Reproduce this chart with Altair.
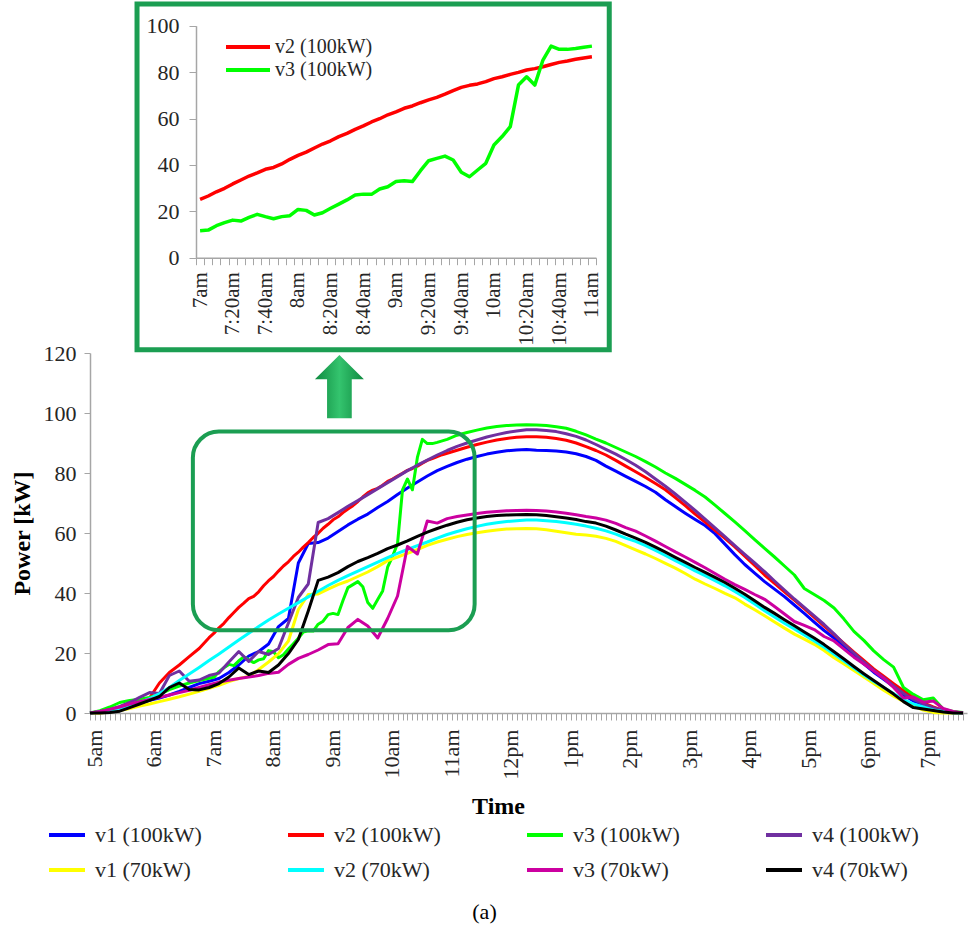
import altair as alt
import pandas as pd

FONT = "Liberation Serif"
TEXT = "#262626"
AXIS_GREY = "#A6A6A6"
FRAME_GREEN = "#1B9E52"

# ---------------- categories (minutes after midnight) ----------------
TIMES = list(range(300, 1181, 10))        # 5:00am ... 7:40pm, 10-minute steps
AM_TIMES = list(range(300, 420, 10))      # 5:00am ... 6:50am
INSET_TIMES = list(range(420, 661, 5))    # 7:00am ... 11:00am, 5-minute steps
PM_TIMES = list(range(670, 1181, 10))     # 11:10am ... 7:40pm

SERIES = ["v1 (100kW)", "v2 (100kW)", "v3 (100kW)", "v4 (100kW)",
          "v1 (70kW)", "v2 (70kW)", "v3 (70kW)", "v4 (70kW)"]
COLORS = ["#0000FF", "#FF0000", "#00FF00", "#7030A0",
          "#FFFF00", "#00FFFF", "#CC00A0", "#000000"]

# ---------------- series values (kW) ----------------
v1_100 = [0, 0.3, 0.8, 1.5, 2.3, 3.2,
          4.2, 5.0, 6.0, 7.2, 8.5, 9.8,
          10.6, 11.5, 13.5, 16.0, 19.0, 20.5,
          23.0, 28.8, 31.5, 50.0, 56.5, 56.8,
          58.3, 60.5, 62.7, 64.6, 66.3, 68.5,
          70.5, 72.8, 75.0, 77.0, 79.0, 80.8,
          82.2, 83.5, 84.6, 85.5, 86.3, 86.9,
          87.4, 87.7, 87.8, 87.6, 87.5, 87.3,
          87.0, 86.4, 85.5, 84.2, 82.3, 80.6,
          78.9, 77.2, 75.5, 73.6, 71.1, 68.8,
          66.6, 64.5, 62.5, 59.8, 56.3, 52.8,
          49.5, 46.6, 43.8, 41.3, 38.8, 36.0,
          33.2, 30.3, 27.5, 25.0, 22.2, 19.3,
          16.4, 13.6, 11.2, 8.8, 6.0, 4.0,
          2.8, 1.5, 0.6, 0.2, 0]

v2_100_am = [0, 0.4, 1.0, 1.8, 2.8, 3.8, 5.0, 10.0, 13.5, 16.0, 18.8, 21.5]
v2_100_inset = [25.1, 26.6, 28.4, 29.9, 31.8, 33.5, 35.2, 36.6, 38.1, 38.9,
                40.4, 42.4, 44.1, 45.5, 47.3, 49.0, 50.4, 52.2, 53.6, 55.3,
                56.8, 58.5, 59.9, 61.6, 62.9, 64.4, 65.4, 66.8, 68.0, 69.1,
                70.5, 72.0, 73.4, 74.3, 74.9, 75.9, 77.2, 78.0, 79.0, 79.9,
                80.9, 81.5, 82.3, 83.3, 84.2, 84.8, 85.5, 86.1, 86.6]
v2_100_pm = [87.6, 88.6, 89.5, 90.3, 91.0,
             91.5, 91.9, 92.1, 92.1, 91.9, 91.5,
             90.9, 90.0, 88.8, 87.5, 86.0, 84.2,
             82.3, 80.4, 78.5, 76.5, 74.4, 71.8,
             69.1, 66.3, 63.6, 60.9, 58.2, 55.4,
             52.3, 49.2, 46.0, 43.2, 40.4, 37.6,
             34.8, 31.9, 29.0, 26.1, 23.2, 20.3,
             17.5, 14.7, 12.3, 9.8, 7.4, 5.2,
             3.4, 2.0, 0.9, 0.3, 0]

v3_100_am = [0, 0.8, 2.0, 3.5, 4.2, 4.6, 5.2, 6.2, 7.8, 9.0, 10.0, 10.8]
v3_100_inset = [11.6, 11.9, 13.8, 15.1, 16.2, 15.8, 17.4, 18.7, 17.7, 16.8,
                17.7, 18.1, 20.8, 20.4, 18.4, 19.4, 21.3, 23.1, 24.9, 27.0,
                27.4, 27.3, 29.6, 30.6, 32.8, 33.2, 32.8, 37.5, 41.8, 42.8,
                43.8, 42.1, 36.8, 34.9, 37.8, 40.7, 48.6, 52.2, 56.5, 74.4,
                78.0, 74.4, 85.2, 91.2, 89.8, 89.8, 90.2, 90.7, 91.2]
v3_100_pm = [92.6, 93.5, 94.3, 95.0, 95.5,
             95.8, 96.0, 96.1, 96.0, 95.8, 95.4,
             94.9, 93.9, 92.7, 91.3, 90.0, 88.5,
             87.0, 85.5, 83.8, 82.0, 80.0, 78.2,
             76.2, 74.2, 72.0, 69.3, 66.5, 63.7,
             60.8, 57.8, 54.9, 52.0, 49.0, 46.0,
             41.5, 39.5, 37.5, 35.0, 31.3, 27.2,
             24.2, 20.7, 17.8, 15.3, 8.5, 6.2,
             4.4, 5.0, 1.3, 0.5, 0.2]

v4_100 = [0, 0.5, 1.2, 2.2, 3.5, 5.2,
          6.8, 6.5, 12.5, 14.0, 10.6, 11.0,
          12.5, 13.3, 17.0, 20.5, 17.2, 20.5,
          19.5, 21.5, 30.0, 38.5, 43.0, 63.5,
          64.8, 66.8, 68.9, 70.8, 72.8, 74.8,
          76.8, 78.8, 80.8, 82.6, 84.3, 86.0,
          87.5, 88.9, 90.0, 91.0, 92.0, 92.8,
          93.5, 94.0, 94.4, 94.4, 94.2, 93.8,
          93.1, 92.2, 91.0, 89.5, 87.9, 86.3,
          84.5, 82.6, 80.4, 78.0, 75.6, 73.0,
          70.3, 67.5, 64.6, 61.7, 58.8, 55.8,
          52.9, 50.0, 47.1, 44.0, 41.0, 38.0,
          35.2, 32.4, 29.5, 26.4, 23.0, 20.0,
          17.0, 14.2, 11.8, 9.0, 6.5, 4.5,
          3.0, 1.8, 0.8, 0.3, 0]

v1_70 = [0, 0, 0.3, 0.8, 1.5, 2.3,
         3.0, 3.8, 4.6, 5.4, 6.3, 7.2,
         8.2, 9.2, 10.5, 11.5, 12.2, 14.5,
         17.0, 19.8, 24.0, 34.5, 39.5, 39.7,
         41.3, 42.8, 44.0, 45.5, 47.0, 48.8,
         50.8, 52.0, 53.2, 54.5, 55.9, 57.0,
         57.9, 58.8, 59.5, 60.1, 60.6, 61.0,
         61.3, 61.4, 61.5, 61.4, 61.1, 60.6,
         60.1, 59.6, 59.3, 58.9, 58.2, 57.2,
         55.8, 54.4, 53.0, 51.5, 49.9, 48.3,
         46.5, 44.6, 43.0, 41.5, 39.9, 38.4,
         36.3, 34.4, 32.4, 30.3, 28.3, 26.3,
         24.6, 22.9, 20.8, 18.4, 16.3, 14.2,
         12.0, 9.8, 7.6, 5.6, 3.9, 2.3,
         1.0, 0.2, 0, 0, 0]

v2_70 = [0, 0.3, 0.8, 1.5, 2.5, 3.5,
         4.8, 6.5, 8.5, 10.8, 13.0, 15.2,
         17.5, 19.7, 22.0, 24.3, 26.6, 28.8,
         31.0, 33.0, 34.9, 36.8, 38.7, 40.6,
         42.5, 44.2, 45.8, 47.3, 48.8, 50.3,
         51.8, 53.2, 54.5, 55.8, 57.0, 58.3,
         59.5, 60.5, 61.4, 62.2, 62.9, 63.4,
         63.8, 64.1, 64.3, 64.3, 64.1, 63.8,
         63.4, 62.9, 62.3, 61.6, 60.7, 59.6,
         58.3, 57.2, 55.8, 54.2, 52.5, 50.8,
         49.1, 47.4, 45.8, 44.1, 42.4, 40.5,
         38.5, 36.3, 34.1, 32.0, 29.9, 28.0,
         26.0, 24.0, 21.9, 19.6, 17.3, 15.0,
         12.7, 10.5, 8.5, 6.5, 4.5, 3.0,
         2.0, 1.0, 0.5, 0.1, 0]

v3_70 = [0, 0.5, 1.2, 2.0, 3.0, 3.8,
         4.5, 5.2, 6.0, 6.8, 7.6, 8.5,
         9.4, 10.3, 10.9, 11.5, 12.0, 12.5,
         13.2, 13.6, 16.2, 18.2, 19.5, 21.0,
         22.8, 23.1, 28.5, 31.2, 29.0, 25.0,
         31.5, 39.0, 55.5, 53.0, 64.0, 63.3,
         64.8, 65.5, 66.0, 66.5, 66.9, 67.2,
         67.4, 67.5, 67.6, 67.5, 67.3, 67.0,
         66.6, 66.1, 65.5, 65.0, 64.3, 63.2,
         61.8, 60.6, 59.0, 57.3, 55.5, 53.7,
         52.0, 50.2, 48.4, 46.5, 44.6, 42.8,
         41.2, 39.5, 37.9, 35.5, 33.0, 30.5,
         29.2, 27.8, 25.5, 24.0, 21.3, 18.6,
         16.3, 14.0, 11.5, 8.5, 5.0, 5.3,
         3.6, 4.0, 1.5, 0.5, 0]

v4_70 = [0, 0, 0.2, 0.6, 1.8, 3.0,
         4.2, 5.5, 8.5, 10.0, 7.8, 7.7,
         8.5, 9.8, 12.0, 15.0, 12.8, 14.0,
         13.5, 16.0, 19.8, 24.5, 34.0, 44.2,
         45.3, 46.8, 48.8, 50.5, 51.8, 53.2,
         54.8, 56.0, 57.4, 58.9, 60.3, 61.5,
         62.6, 63.6, 64.4, 65.0, 65.5, 65.8,
         66.0, 66.1, 66.2, 66.1, 65.8, 65.4,
         65.0, 64.5, 63.8, 63.3, 62.3, 61.0,
         59.6, 58.3, 56.9, 55.3, 53.6, 51.9,
         50.2, 48.5, 46.9, 45.2, 43.5, 41.6,
         39.6, 37.4, 35.2, 33.2, 31.1, 29.1,
         27.0, 25.0, 22.8, 20.4, 18.0, 15.5,
         13.1, 10.8, 8.6, 6.3, 3.8, 1.8,
         1.3, 0.8, 0.3, 0, 0]

# ---------------- annotation anchors (data units: minutes, kW) ----------------
ZOOM_BOX = {"t": 403.7, "t2": 687.7, "kw": 27.6, "kw2": 93.8}      # rounded box 6:44am-11:28am
INSET_FRAME = {"t": 347.4, "t2": 823.4, "kw": 121.1, "kw2": 236.3}  # frame around the inset
ARROW_AT = {"t": 551.4, "kw": 108.8}
ARROW_PATH = "M0,-1 L0.774,-0.232 L0.39,-0.232 L0.39,1 L-0.39,1 L-0.39,-0.232 L-0.774,-0.232 Z"


def series_rows(name, ts, vs):
    assert len(ts) == len(vs), (name, len(ts), len(vs))
    return [{"series": name, "t": t, "kw": v} for t, v in zip(ts, vs)]


FULL_23 = AM_TIMES + INSET_TIMES + PM_TIMES
main_rows = (series_rows(SERIES[0], TIMES, v1_100)
             + series_rows(SERIES[1], FULL_23, v2_100_am + v2_100_inset + v2_100_pm)
             + series_rows(SERIES[2], FULL_23, v3_100_am + v3_100_inset + v3_100_pm)
             + series_rows(SERIES[3], TIMES, v4_100)
             + series_rows(SERIES[4], TIMES, v1_70)
             + series_rows(SERIES[5], TIMES, v2_70)
             + series_rows(SERIES[6], TIMES, v3_70)
             + series_rows(SERIES[7], TIMES, v4_70))
main_df = pd.DataFrame(main_rows)
inset_v2_df = pd.DataFrame(series_rows(SERIES[1], INSET_TIMES, v2_100_inset))
inset_v3_df = pd.DataFrame(series_rows(SERIES[2], INSET_TIMES, v3_100_inset))

# ---------------- geometry ----------------
W, H = 877, 711
x_main = alt.Scale(domain=[300, 1184], range=[0, W], nice=False, zero=False)
y_main = alt.Scale(domain=[0, 120], range=[H, 351], nice=False, zero=False)
x_inset = alt.Scale(domain=[417.5, 662.5], range=[106, 506], nice=False, zero=False)
y_inset = alt.Scale(domain=[0, 100], range=[255.7, 23.7], nice=False, zero=False)

HOUR_LABEL = ("datum.value % 60 == 0 ? (datum.value < 720 ? (datum.value / 60) + 'am' : "
              "(datum.value == 720 ? '12pm' : (datum.value / 60 - 12) + 'pm')) : ''")
INSET_LABEL = ("(datum.value + 2.5) % 20 == 0 ? floor((datum.value + 2.5) / 60) + "
               "((datum.value + 2.5) % 60 == 0 ? '' : ':' + ((datum.value + 2.5) % 60)) + 'am' : ''")

axis_common = dict(labelFont=FONT, labelColor=TEXT, tickColor=AXIS_GREY, domainColor=AXIS_GREY,
                   domainWidth=1.5, tickWidth=1, grid=False, labelOverlap=False,
                   labelFlush=False, labelBound=False)

main_x_axis = alt.Axis(orient="bottom", values=list(range(300, 1181, 5)), labelExpr=HOUR_LABEL,
                       labelAngle=270, labelFontSize=22, labelPadding=9, labelOffset=4, tickSize=7,
                       title="Time", titleFont=FONT, titleFontSize=24, titleFontWeight="bold",
                       titleColor="#000000", titleX=408, titleY=93, titleAlign="center",
                       titleBaseline="middle", **axis_common)
main_y_axis = alt.Axis(orient="left", values=[0, 20, 40, 60, 80, 100, 120], labelFontSize=22,
                       labelPadding=8, tickSize=6, title="Power [kW]", titleFont=FONT,
                       titleFontSize=24, titleFontWeight="bold", titleColor="#000000",
                       titleX=-68, titleY=531, titleAngle=270, titleAlign="center",
                       titleBaseline="middle", **axis_common)

main_legend = alt.Legend(orient="none", legendX=-43, legendY=813, direction="horizontal", columns=4,
                         title=None, padding=0, symbolType="stroke", symbolSize=1296,
                         symbolStrokeWidth=4, labelFont=FONT, labelFontSize=22, labelColor=TEXT,
                         labelOffset=8, columnPadding=78, rowPadding=4, labelLimit=0)

# every layer of the main group repeats the same axis definitions, so the shared axes merge cleanly
MX = alt.X("t:Q", scale=x_main, axis=main_x_axis)
MY = alt.Y("kw:Q", scale=y_main, axis=main_y_axis)

lines = alt.Chart(main_df).mark_line(strokeWidth=3, strokeJoin="round").encode(
    x=MX, y=MY,
    color=alt.Color("series:N", scale=alt.Scale(domain=SERIES, range=COLORS), legend=main_legend),
)

zoom_box = alt.Chart(pd.DataFrame([ZOOM_BOX])).mark_rect(
    fillOpacity=0, stroke=FRAME_GREEN, strokeWidth=4, cornerRadius=26
).encode(x=MX, x2="t2:Q", y=MY, y2="kw2:Q")

inset_frame = alt.Chart(pd.DataFrame([INSET_FRAME])).mark_rect(
    fillOpacity=0, stroke=FRAME_GREEN, strokeWidth=5
).encode(x=MX, x2="t2:Q", y=MY, y2="kw2:Q")

arrow = alt.Chart(pd.DataFrame([ARROW_AT])).mark_point(
    shape=ARROW_PATH, size=4007, filled=True, opacity=1, strokeWidth=0,
    fill={"gradient": "linear", "x1": 0, "y1": 0, "x2": 1, "y2": 0,
          "stops": [{"offset": 0, "color": "#0F8A40"},
                    {"offset": 0.5, "color": "#34C46E"},
                    {"offset": 1, "color": "#0F8A40"}]},
).encode(x=MX, y=MY)

inset_x_axis = alt.Axis(orient="bottom", offset=-455.3, values=[417.5 + 5 * k for k in range(50)],
                        labelExpr=INSET_LABEL, labelAngle=270, labelFontSize=21, labelPadding=7,
                        labelOffset=4, tickSize=7, title=None, **axis_common)
inset_y_axis = alt.Axis(orient="left", offset=-106, values=[0, 20, 40, 60, 80, 100],
                        labelFontSize=22, labelPadding=10, tickSize=7, title=None, **axis_common)
IX = alt.X("t:Q", scale=x_inset, axis=inset_x_axis)
IY = alt.Y("kw:Q", scale=y_inset, axis=inset_y_axis)


def inset_legend(y):
    return alt.Legend(orient="none", legendX=134, legendY=y, title=None, padding=0,
                      symbolType="stroke", symbolSize=1936, symbolStrokeWidth=4,
                      labelFont=FONT, labelFontSize=20, labelColor=TEXT, labelOffset=3,
                      labelLimit=0)


inset_v2 = alt.Chart(inset_v2_df).mark_line(strokeWidth=3.5, strokeJoin="round").encode(
    x=IX, y=IY,
    color=alt.Color("series:N", scale=alt.Scale(domain=[SERIES[1]], range=[COLORS[1]]),
                    legend=inset_legend(21)),
)
inset_v3 = alt.Chart(inset_v3_df).mark_line(strokeWidth=3.5, strokeJoin="round").encode(
    x=IX, y=IY,
    color=alt.Color("series:N", scale=alt.Scale(domain=[SERIES[2]], range=[COLORS[2]]),
                    legend=inset_legend(44)),
)

main_group = alt.layer(lines, zoom_box, inset_frame, arrow)
inset_group = alt.layer(inset_v2, inset_v3).resolve_scale(color="independent")

chart = alt.layer(main_group, inset_group).resolve_scale(
    x="independent", y="independent", color="independent"
).properties(
    width=W, height=H,
    autosize=alt.AutoSizeParams(type="none"),
    padding={"left": 90, "top": 2, "right": 1, "bottom": 227},
    title=alt.TitleParams(text="(a)", orient="bottom", anchor="middle", font=FONT, fontSize=22,
                          fontWeight="normal", color="#000000", offset=21, dx=-44),
).configure(font=FONT, background="#FFFFFF").configure_view(strokeWidth=0)

chart.save("out.html", embed_options={"renderer": "svg", "actions": False})
